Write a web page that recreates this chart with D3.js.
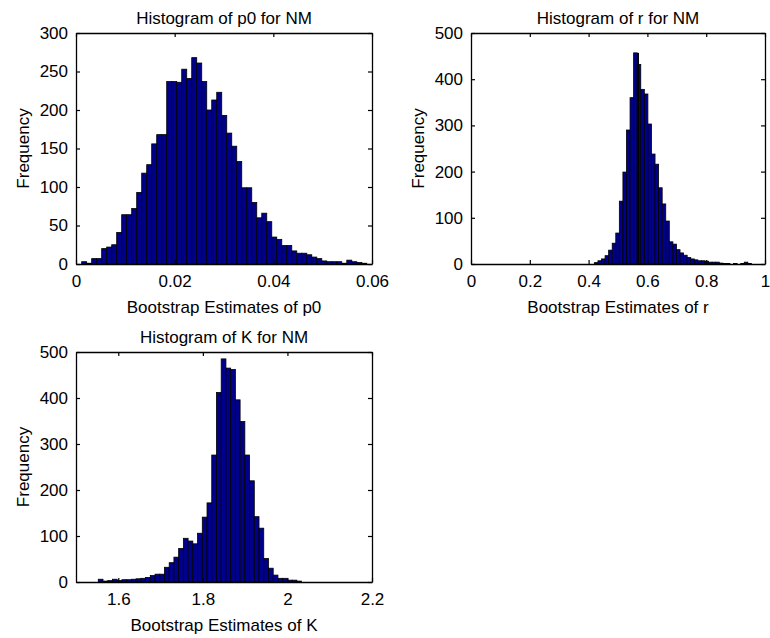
<!DOCTYPE html>
<html><head><meta charset="utf-8">
<script src="https://cdn.jsdelivr.net/npm/d3@7"></script>
<style>
body{margin:0;background:#fff}
text{font-family:"Liberation Sans",Arial,Helvetica,sans-serif;fill:#000}
</style>
</head><body>
<svg id="chart" width="770" height="638"></svg>
<script>
// ---- data ----
const p0Counts = [3,1,7,7,20,22,25,41,64,64,72,93,118,129,156,168,168,237,237,236,253,241,268,261,237,200,213,223,193,170,153,133,99,99,80,60,66,55,35,32,24,24,17,14,14,12,9,7,4,3,3,3,1,5,3,2,1];
const p0BinStart = 0.00115;
const p0BinWidth = 0.001014;
const p0XTicks = [0,0.02,0.04,0.06];
const p0XLabels = ["0","0.02","0.04","0.06"];
const p0YTicks = [0,50,100,150,200,250,300];

const rCounts = [3,7,11,18,30,45,67,136,199,290,360,457,432,378,368,303,238,216,165,130,93,48,43,31,24,19,14,11,9,7,7,6,4,4,4,2,1,1,0,1,0,1,4,1];
const rBinStart = 0.4196;
const rBinWidth = 0.01214;
const rMarker = 0.568;
const rXTicks = [0,0.2,0.4,0.6,0.8,1];
const rXLabels = ["0","0.2","0.4","0.6","0.8","1"];
const rYTicks = [0,100,200,300,400,500];

const kCounts = [6,2,3,6,3,5,5,6,7,8,10,14,17,17,32,42,54,73,95,89,83,106,141,172,276,412,485,465,462,396,349,276,220,142,117,51,30,15,8,8,4,4,2];
const kBinStart = 1.5527;
const kBinWidth = 0.01118;
const kXTicks = [1.6,1.8,2,2.2];
const kXLabels = ["1.6","1.8","2","2.2"];
const kYTicks = [0,100,200,300,400,500];

const titles = ["Histogram of p0 for NM","Histogram of r for NM","Histogram of K for NM"];
const xLabels = ["Bootstrap Estimates of p0","Bootstrap Estimates of r","Bootstrap Estimates of K"];
const yLabel = "Frequency";

// ---- layout ----
const panels = [
  {counts:p0Counts, start:p0BinStart, width:p0BinWidth, xDomain:[0,0.06], yDomain:[0,300],
   xTicks:p0XTicks, xTickLabels:p0XLabels, yTicks:p0YTicks, title:titles[0], xLabel:xLabels[0],
   box:{l:76,t:33,r:372,b:264}},
  {counts:rCounts, start:rBinStart, width:rBinWidth, xDomain:[0,1], yDomain:[0,500],
   xTicks:rXTicks, xTickLabels:rXLabels, yTicks:rYTicks, title:titles[1], xLabel:xLabels[1],
   box:{l:471,t:33,r:765,b:264}, marker:rMarker},
  {counts:kCounts, start:kBinStart, width:kBinWidth, xDomain:[1.5,2.2], yDomain:[0,500],
   xTicks:kXTicks, xTickLabels:kXLabels, yTicks:kYTicks, title:titles[2], xLabel:xLabels[2],
   box:{l:76,t:352,r:372,b:582}}
];

const svg = d3.select("#chart");
const FS = 17;

panels.forEach(p => {
  const x = d3.scaleLinear().domain(p.xDomain).range([p.box.l, p.box.r]);
  const y = d3.scaleLinear().domain(p.yDomain).range([p.box.b, p.box.t]);
  const g = svg.append("g");

  const bins = p.counts.map((c,i) => ({x0:p.start + i*p.width, x1:p.start + (i+1)*p.width, n:c}));
  g.append("g").selectAll("rect").data(bins.filter(d=>d.n>0)).join("rect")
    .attr("x", d => x(d.x0))
    .attr("width", d => x(d.x1) - x(d.x0))
    .attr("y", d => y(d.n))
    .attr("height", d => y(0) - y(d.n))
    .attr("fill", "#00008a")
    .attr("stroke", "#000")
    .attr("stroke-width", 0.8);

  if (p.marker !== undefined) {
    const peak = d3.max(p.counts);
    g.append("line")
      .attr("x1", x(p.marker)).attr("x2", x(p.marker))
      .attr("y1", y(0)).attr("y2", y(peak))
      .attr("stroke", "#000").attr("stroke-width", 2);
  }

  const styleAxis = sel => {
    sel.select(".domain").attr("stroke","#000").attr("stroke-width",1.3);
    sel.selectAll(".tick line").attr("stroke","#000").attr("stroke-width",1.2);
    sel.selectAll(".tick text").style("font-size", FS+"px").style("font-family","Liberation Sans, Arial, sans-serif").attr("fill","#000");
  };

  const fmtX = (d,i) => p.xTickLabels[i];
  g.append("g").attr("transform",`translate(0,${p.box.b})`)
    .call(d3.axisBottom(x).tickValues(p.xTicks).tickFormat(fmtX).tickSizeInner(-4).tickSizeOuter(0).tickPadding(11))
    .call(styleAxis);
  g.append("g").attr("transform",`translate(0,${p.box.t})`)
    .call(d3.axisTop(x).tickValues(p.xTicks).tickFormat("").tickSizeInner(-4).tickSizeOuter(0))
    .call(styleAxis);
  g.append("g").attr("transform",`translate(${p.box.l},0)`)
    .call(d3.axisLeft(y).tickValues(p.yTicks).tickFormat(d3.format("d")).tickSizeInner(-4).tickSizeOuter(0).tickPadding(8))
    .call(styleAxis);
  g.append("g").attr("transform",`translate(${p.box.r},0)`)
    .call(d3.axisRight(y).tickValues(p.yTicks).tickFormat("").tickSizeInner(-4).tickSizeOuter(0))
    .call(styleAxis);

  const cx = (p.box.l + p.box.r)/2;
  g.append("text").attr("x", cx).attr("y", p.box.t - 9)
    .attr("text-anchor","middle").style("font-size",FS+"px").text(p.title);
  g.append("text").attr("x", cx).attr("y", p.box.b + 49)
    .attr("text-anchor","middle").style("font-size",FS+"px").text(p.xLabel);
  g.append("text")
    .attr("transform",`translate(${p.box.l - 47},${(p.box.t+p.box.b)/2}) rotate(-90)`)
    .attr("text-anchor","middle").style("font-size",FS+"px").text(yLabel);
});
</script>
</body></html>
